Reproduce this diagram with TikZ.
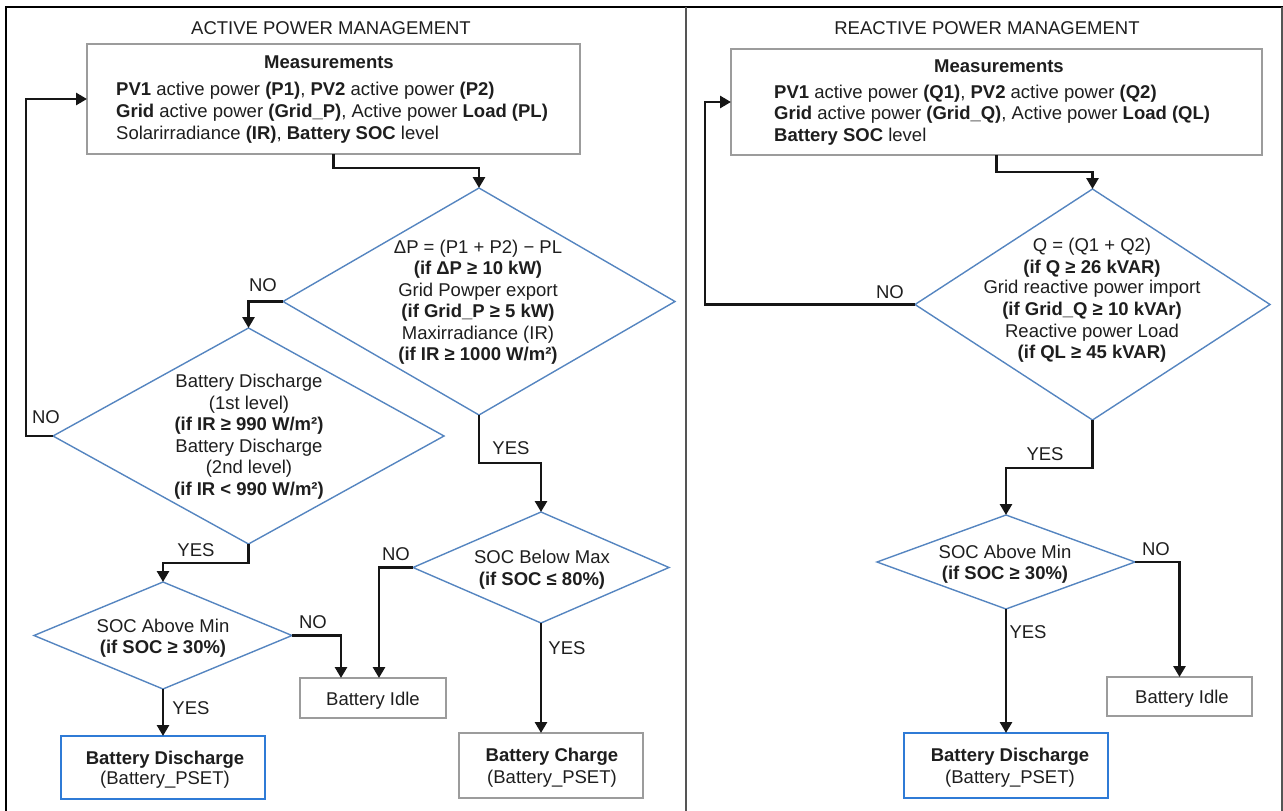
\documentclass[tikz,border=0pt]{standalone}
\usepackage{fontspec}
\setmainfont{Liberation Sans}
\usetikzlibrary{arrows.meta,shapes.geometric}
\definecolor{dblue}{HTML}{5585C0}
\definecolor{bblue}{HTML}{2F7BD6}
\definecolor{bgray}{HTML}{9C9C9C}
\definecolor{cline}{HTML}{161616}
\definecolor{fgray}{HTML}{555555}
\definecolor{tcol}{HTML}{1E1E1E}
\begin{document}
\begin{tikzpicture}[x=1pt,y=-1pt,
  font=\fontsize{18.5}{22}\selectfont,
  dia/.style={draw=dblue, line width=1.4pt, shape=diamond, inner sep=0pt, outer sep=0pt},
  gbox/.style={draw=bgray, line width=1.8pt, rectangle, inner sep=0pt, outer sep=0pt},
  bbox/.style={draw=bblue, line width=2pt, rectangle, inner sep=0pt, outer sep=0pt},
  conn/.style={draw=cline, line width=2.8pt, -{Triangle[length=11pt,width=12pt]}},
  txt/.style={anchor=base, inner sep=0pt, text=tcol},
  txtl/.style={anchor=base west, inner sep=0pt, text=tcol}]
\useasboundingbox (0,0) rectangle (1283,811);
% frame
\draw[line width=2.5pt, black] (6,811) -- (6,7) -- (1283,7);
\draw[line width=2pt, fgray] (686,7) -- (686,811);
\draw[line width=1.5pt, fgray] (1282,7) -- (1282,811);

% ---------------- LEFT ----------------
\node[txt] (tl) at (331,34.5) {ACTIVE POWER MANAGEMENT};
\node[gbox, minimum width=493pt, minimum height=110pt] (m1) at (333.5,99) {};
\node[txt] (m1h) at (329,68.5) {\textbf{Measurements}};
\node[txtl] (m1a) at (116,95.5) {\textbf{PV1} active power \textbf{(P1)}, \textbf{PV2} active power \textbf{(P2)}};
\node[txtl] (m1b) at (116,117.5) {\textbf{Grid} active power \textbf{(Grid\_P)}, Active power \textbf{Load (PL)}};
\node[txtl] (m1c) at (116,139.5) {Solarirradiance \textbf{(IR)}, \textbf{Battery SOC} level};

\node[dia, minimum width=392pt, minimum height=227pt] (d1) at (479,301.5) {};
\node[txt] (d1a) at (478,253.5) {ΔP = (P1 + P2) − PL};
\node[txt] (d1b) at (478,274.5) {\textbf{(if ΔP ≥ 10 kW)}};
\node[txt] (d1c) at (478,296.5) {Grid Powper export};
\node[txt] (d1d) at (478,317.5) {\textbf{(if Grid\_P ≥ 5 kW)}};
\node[txt] (d1e) at (478,339.5) {Maxirradiance (IR)};
\node[txt] (d1f) at (478,360.5) {\textbf{(if IR ≥ 1000 W/m²)}};

\node[dia, minimum width=391pt, minimum height=216pt] (d2) at (248.5,436) {};
\node[txt] (d2a) at (249,387.5) {Battery Discharge};
\node[txt] (d2b) at (249,409.5) {(1st level)};
\node[txt] (d2c) at (249,430.5) {\textbf{(if IR ≥ 990 W/m²)}};
\node[txt] (d2d) at (249,452.5) {Battery Discharge};
\node[txt] (d2e) at (249,473.5) {(2nd level)};
\node[txt] (d2f) at (249,495.5) {\textbf{(if IR < 990 W/m²)}};

\node[dia, minimum width=258pt, minimum height=107pt] (d3) at (163,635.5) {};
\node[txt] (d3a) at (163,632.5) {SOC Above Min};
\node[txt] (d3b) at (163,653.5) {\textbf{(if SOC ≥ 30\%)}};

\node[dia, minimum width=256pt, minimum height=111pt] (d4) at (541,567.5) {};
\node[txt] (d4a) at (542,563.5) {SOC Below Max};
\node[txt] (d4b) at (542,585.5) {\textbf{(if SOC ≤ 80\%)}};

\node[gbox, minimum width=146pt, minimum height=40pt] (idleL) at (373,698) {};
\node[txt] (idleLt) at (373,705.5) {Battery Idle};

\node[bbox, minimum width=204pt, minimum height=63pt] (dischL) at (163,767.5) {};
\node[txt] (dischLa) at (165,764.5) {\textbf{Battery Discharge}};
\node[txt] (dischLb) at (165,784.5) {(Battery\_PSET)};

\node[gbox, minimum width=184pt, minimum height=65pt] (chargeL) at (551,765.5) {};
\node[txt] (chargeLa) at (552,761.5) {\textbf{Battery Charge}};
\node[txt] (chargeLb) at (552,783.5) {(Battery\_PSET)};

% left connectors
\draw[conn] (m1.south) -- ++(0,14) -| (d1.north);
\draw[conn] (d1.west) -| (d2.north);
\draw[conn] (d2.west) -- ++(-27,0) |- (m1.west);
\draw[conn] (d2.south) -- ++(0,19) -| (d3.north);
\draw[conn] (d3.east) -| ([xshift=-32pt]idleL.north);
\draw[conn] (d3.south) -- (d3.south |- dischL.north);
\draw[conn] (d1.south) -- ++(0,48) -| (d4.north);
\draw[conn] (d4.west) -| ([xshift=6pt]idleL.north);
\draw[conn] (d4.south) -- (d4.south |- chargeL.north);

\node[txt] (l1) at (263,291.5) {NO};
\node[txt] (l2) at (46,423.5) {NO};
\node[txt] (l3) at (196,556.5) {YES};
\node[txt] (l4) at (313,628.5) {NO};
\node[txt] (l5) at (191,714.5) {YES};
\node[txt] (l6) at (511,454.5) {YES};
\node[txt] (l7) at (396,560.5) {NO};
\node[txt] (l8) at (567,654.5) {YES};

% ---------------- RIGHT ----------------
\node[txt] (tr) at (987,34.5) {REACTIVE POWER MANAGEMENT};
\node[gbox, minimum width=531pt, minimum height=106pt] (m2) at (996.5,102) {};
\node[txt] (m2h) at (999,72.5) {\textbf{Measurements}};
\node[txtl] (m2a) at (774,98.5) {\textbf{PV1} active power \textbf{(Q1)}, \textbf{PV2} active power \textbf{(Q2)}};
\node[txtl] (m2b) at (774,119.5) {\textbf{Grid} active power \textbf{(Grid\_Q)}, Active power \textbf{Load (QL)}};
\node[txtl] (m2c) at (774,141.5) {\textbf{Battery SOC} level};

\node[dia, minimum width=355pt, minimum height=231pt] (r1) at (1092.5,304.5) {};
\node[txt] (r1a) at (1092,251.5) {Q = (Q1 + Q2)};
\node[txt] (r1b) at (1092,273.5) {\textbf{(if Q ≥ 26 kVAR)}};
\node[txt] (r1c) at (1092,293.5) {Grid reactive power import};
\node[txt] (r1d) at (1092,315.5) {\textbf{(if Grid\_Q ≥ 10 kVAr)}};
\node[txt] (r1e) at (1092,337.5) {Reactive power Load};
\node[txt] (r1f) at (1092,358.5) {\textbf{(if QL ≥ 45 kVAR)}};

\node[dia, minimum width=258pt, minimum height=94pt] (r2) at (1006,562) {};
\node[txt] (r2a) at (1005,558.5) {SOC Above Min};
\node[txt] (r2b) at (1005,579.5) {\textbf{(if SOC ≥ 30\%)}};

\node[gbox, minimum width=145pt, minimum height=39pt] (idleR) at (1179.5,696.5) {};
\node[txt] (idleRt) at (1182,703.5) {Battery Idle};

\node[bbox, minimum width=204pt, minimum height=65pt] (dischR) at (1006,765.5) {};
\node[txt] (dischRa) at (1010,761.5) {\textbf{Battery Discharge}};
\node[txt] (dischRb) at (1010,783.5) {(Battery\_PSET)};

% right connectors
\draw[conn] (m2.south) -- ++(0,17) -| (r1.north);
\draw[conn] (r1.west) -- ++(-210,0) |- (m2.west);
\draw[conn] (r1.south) -- ++(0,48) -| (r2.north);
\draw[conn] (r2.east) -| (idleR.north);
\draw[conn] (r2.south) -- (r2.south |- dischR.north);

\node[txt] (l9) at (890,298.5) {NO};
\node[txt] (l10) at (1045,460.5) {YES};
\node[txt] (l11) at (1156,555.5) {NO};
\node[txt] (l12) at (1028,638.5) {YES};
\end{tikzpicture}
\end{document}
